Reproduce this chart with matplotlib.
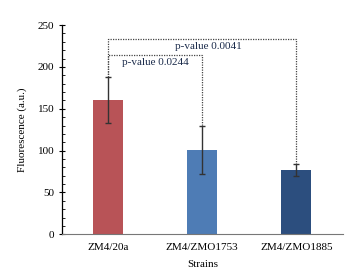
import matplotlib

matplotlib.use("Agg")
import matplotlib.pyplot as plt
from matplotlib.ticker import MultipleLocator

strains = ["ZM4/20a", "ZM4/ZMO1753", "ZM4/ZMO1885"]
fluorescence = [160.5, 100.5, 77.0]
errors = [28.0, 29.0, 7.3]
bar_colors = ["#B85357", "#4E7CB5", "#2C4E7E"]

# significance brackets: (left bar, right bar, bracket height, label)
brackets = [
    (0, 1, 214, "p-value 0.0244"),
    (0, 2, 233, "p-value 0.0041"),
]

plt.rcParams["font.family"] = ["Liberation Serif", "DejaVu Serif"]
plt.rcParams["font.size"] = 8

fig = plt.figure(figsize=(3.54, 2.78), dpi=100)
ax = fig.add_axes([0.175, 0.157, 0.795, 0.753])

x = list(range(len(strains)))
ax.bar(x, fluorescence, width=0.32, color=bar_colors, zorder=2)
ax.errorbar(x, fluorescence, yerr=errors, fmt="none", ecolor="#333333",
            elinewidth=1.0, capsize=2.5, capthick=1.0, zorder=3)

tops = [v + e for v, e in zip(fluorescence, errors)]
for i, j, h, label in brackets:
    ax.plot([i, i, j, j], [tops[i], h, h, tops[j]], color="#444444",
            lw=0.9, ls=(0, (1, 1)), zorder=1)
    if j - i == 1:
        ax.text((i + j) / 2, h - 3, label, ha="center", va="top", color="#1a2a4a")
    else:
        ax.text(1.07, h - 3, label, ha="center", va="top", color="#1a2a4a")

ax.set_xlim(-0.49, 2.5)
ax.set_ylim(0, 250)
ax.set_xticks(x)
ax.set_xticklabels(strains)
ax.yaxis.set_major_locator(MultipleLocator(50))
ax.yaxis.set_minor_locator(MultipleLocator(10))
ax.tick_params(axis="x", length=0, pad=6)
ax.tick_params(axis="y", which="major", direction="inout", length=4, width=0.8)
ax.tick_params(axis="y", which="minor", direction="in", length=2, width=0.6)
ax.spines["top"].set_visible(False)
ax.spines["right"].set_visible(False)
ax.spines["bottom"].set_color("#777777")
ax.spines["left"].set_linewidth(0.9)

ax.set_xlabel("Strains", labelpad=6)
ax.set_ylabel("Fluorescence (a.u.)", labelpad=8)

fig.savefig("out.png", dpi=100)
plt.close(fig)
